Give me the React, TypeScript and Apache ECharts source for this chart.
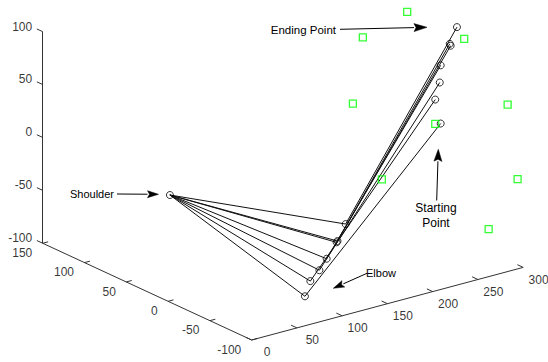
import React, { useEffect, useRef } from "react";
import * as echarts from "echarts";

// ---- tick values of the three axes ----
const xTicks = [0, 50, 100, 150, 200, 250, 300];
const yTicks = [150, 100, 50, 0, -50, -100];
const zTicks = [-100, -50, 0, 50, 100];

// ---- arm configurations (3-D, start -> end) ----
const shoulder = [2, 0, 0];
const elbowX = [105, 111, 121, 129, 141, 140, 150];
const elbowY = [-50, -50, -50, -50, -50, -50, -50];
const elbowZ = [-101, -88, -80, -71, -57, -58, -43];
const handX = [255, 249, 254, 255, 266, 265, 273];
const handY = [-50, -50, -50, -50, -50, -50, -50];
const handZ = [28, 52, 67, 83, 99, 101, 115];

// ---- targets (green squares) ----
const targetX = [218, 169, 281, 158, 329, 249, 190, 340, 308];
const targetY = [-50, -50, -50, -50, -50, -50, -50, -50, -50];
const targetZ = [142, 129, 102, 69, 29, 29, -10, -44, -84];

// ---- view projection (3-D -> plane) ----
const ORIGIN = [251.7, 340];
const EX = [0.905, -0.242];
const EY = [-0.836, -0.387];
const EZ = [0, -1.058];
function proj(x: number, y: number, z: number): number[] {
  const dy = y + 100;
  const dz = z + 100;
  return [
    ORIGIN[0] + EX[0] * x + EY[0] * dy + EZ[0] * dz,
    ORIGIN[1] + EX[1] * x + EY[1] * dy + EZ[1] * dz,
  ];
}

const FONT = "'Liberation Sans', Arial, Helvetica, sans-serif";

function arrow(x1: number, y1: number, x2: number, y2: number, len = 11, hw = 3.5) {
  const dx = x2 - x1;
  const dy = y2 - y1;
  const d = Math.sqrt(dx * dx + dy * dy);
  const ux = dx / d;
  const uy = dy / d;
  const bx = x2 - ux * len;
  const by = y2 - uy * len;
  return [
    {
      type: "line",
      shape: { x1, y1, x2: bx, y2: by },
      style: { stroke: "#000", lineWidth: 1 },
      silent: true,
      z: 100,
    },
    {
      type: "polygon",
      shape: {
        points: [
          [x2, y2],
          [bx - uy * hw, by + ux * hw],
          [bx + ux * 2, by + uy * 2],
          [bx + uy * hw, by - ux * hw],
        ],
      },
      style: { fill: "#000", stroke: "#000", lineWidth: 0.5 },
      silent: true,
      z: 100,
    },
  ];
}

function labelSeries(data: any[], align: string, fontSize = 12) {
  return {
    type: "scatter",
    symbol: "circle",
    symbolSize: 1,
    itemStyle: { color: "rgba(0,0,0,0)" },
    silent: true,
    data,
    label: {
      show: true,
      formatter: (p: any) => p.name,
      position: [0, 0],
      align,
      verticalAlign: "middle",
      color: "#000",
      fontSize,
      fontFamily: FONT,
    },
    z: 5,
  };
}

export default function App() {
  const ref = useRef<HTMLDivElement>(null);
  useEffect(() => {
    if (!ref.current) return;
    const chart = echarts.init(ref.current, null, { renderer: "svg" });

    const axisLines = [
      { coords: [proj(0, 150, -100), proj(0, 150, 100)] },
      { coords: [proj(0, 150, -100), proj(0, -100, -100)] },
      { coords: [proj(0, -100, -100), proj(300, -100, -100)] },
    ];
    const tickLines: any[] = [];
    zTicks.forEach((z) => tickLines.push({ coords: [proj(0, 150, z), proj(0, 157, z)] }));
    yTicks.forEach((y) => tickLines.push({ coords: [proj(0, y, -100), proj(6, y, -100)] }));
    xTicks.forEach((x) => tickLines.push({ coords: [proj(x, -100, -100), proj(x, -93, -100)] }));

    const zLabels = zTicks.map((z) => ({ name: String(z), value: proj(0, 162, z) }));
    const yLabels = yTicks.map((y) => ({ name: String(y), value: proj(-11, y, -107) }));
    const xLabels = xTicks.map((x) => ({ name: String(x), value: proj(x, -119, -105) }));

    const S = proj(shoulder[0], shoulder[1], shoulder[2]);
    const E = elbowX.map((_, i) => proj(elbowX[i], elbowY[i], elbowZ[i]));
    const H = handX.map((_, i) => proj(handX[i], handY[i], handZ[i]));
    const upper = E.map((e) => ({ coords: [S, e] }));
    const fore = E.map((e, i) => ({ coords: [e, H[i]] }));
    const joints = [S, ...E, ...H];
    const targets = targetX.map((_, i) => proj(targetX[i], targetY[i], targetZ[i]));

    const option: any = {
      animation: false,
      backgroundColor: "#fff",
      grid: { left: 0, right: 0, top: 0, bottom: 0, containLabel: false },
      xAxis: { type: "value", min: 0, max: 548, show: false },
      yAxis: { type: "value", min: 0, max: 362, inverse: true, show: false },
      series: [
        {
          type: "lines",
          coordinateSystem: "cartesian2d",
          data: axisLines,
          lineStyle: { color: "#333", width: 1, opacity: 1 },
          silent: true,
          z: 1,
        },
        {
          type: "lines",
          coordinateSystem: "cartesian2d",
          data: tickLines,
          lineStyle: { color: "#333", width: 1, opacity: 1 },
          silent: true,
          z: 1,
        },
        labelSeries(zLabels, "right"),
        labelSeries(yLabels, "right"),
        labelSeries(xLabels, "center"),
        {
          type: "lines",
          coordinateSystem: "cartesian2d",
          data: upper,
          lineStyle: { color: "#111", width: 1, opacity: 1 },
          silent: true,
          z: 2,
        },
        {
          type: "lines",
          coordinateSystem: "cartesian2d",
          data: fore,
          lineStyle: { color: "#111", width: 1, opacity: 1 },
          silent: true,
          z: 2,
        },
        {
          type: "scatter",
          data: joints,
          symbol: "circle",
          symbolSize: 7,
          itemStyle: { color: "rgba(0,0,0,0)", borderColor: "#000", borderWidth: 1 },
          silent: true,
          z: 3,
        },
        {
          type: "scatter",
          data: targets,
          symbol: "rect",
          symbolSize: 7,
          itemStyle: { color: "rgba(0,0,0,0)", borderColor: "#00ff00", borderWidth: 1.3 },
          silent: true,
          z: 4,
        },
      ],
      graphic: [
        {
          type: "text",
          x: 114,
          y: 194,
          style: { text: "Shoulder", fill: "#000", font: `11px ${FONT}`, align: "right", verticalAlign: "middle" },
          silent: true,
          z: 100,
        },
        ...arrow(117, 194, 158.5, 194.3),
        {
          type: "text",
          x: 336,
          y: 29.5,
          style: { text: "Ending Point", fill: "#000", font: `11.5px ${FONT}`, align: "right", verticalAlign: "middle" },
          silent: true,
          z: 100,
        },
        ...arrow(340, 29.3, 427, 27.3, 13, 4),
        {
          type: "text",
          x: 436,
          y: 215.5,
          style: {
            text: "Starting\nPoint",
            fill: "#000",
            font: `12px ${FONT}`,
            lineHeight: 14.5,
            align: "center",
            verticalAlign: "middle",
          },
          silent: true,
          z: 100,
        },
        ...arrow(436.7, 200.5, 438.3, 149.3, 12, 4),
        {
          type: "text",
          x: 366,
          y: 273.3,
          style: { text: "Elbow", fill: "#000", font: `11px ${FONT}`, align: "left", verticalAlign: "middle" },
          silent: true,
          z: 100,
        },
        ...arrow(367, 273.3, 333.3, 288.3, 11, 3.5),
      ],
    };
    chart.setOption(option);
    return () => chart.dispose();
  }, []);
  return (
    <div
      ref={ref}
      style={{ position: "fixed", left: 0, top: 0, width: 548, height: 362, background: "#fff" }}
    />
  );
}
